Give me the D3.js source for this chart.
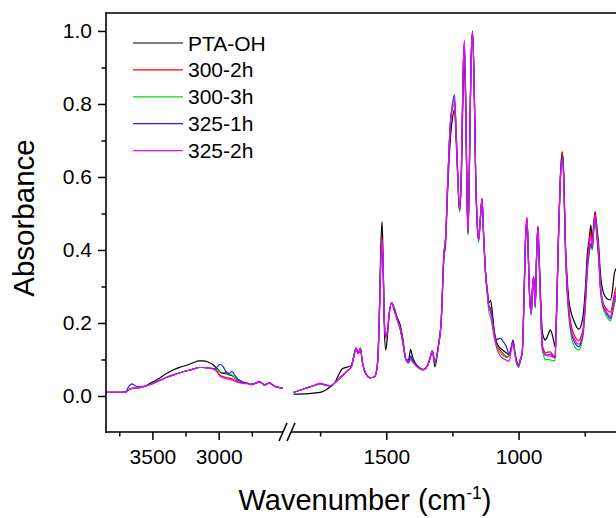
<!DOCTYPE html>
<html>
<head>
<meta charset="utf-8">
<script src="https://cdn.jsdelivr.net/npm/d3@7"></script>
<style>
  body { margin: 0; background: #fff; }
  svg { display: block; }
  text { font-family: "Liberation Sans", Arial, sans-serif; fill: #000; }
</style>
</head>
<body>
<div id="chart"></div>
<script>
// series names, in legend order
const seriesNames = ["PTA-OH", "300-2h", "300-3h", "325-1h", "325-2h"];

// left part of the broken axis (cm-1)
const wavenumberLeft = [3850, 3780, 3720, 3700, 3680, 3655, 3630, 3600, 3550, 3500,
  3450, 3400, 3340, 3280, 3220, 3180, 3150, 3120, 3080, 3040,
  3015, 2990, 2965, 2940, 2920, 2900, 2880, 2855, 2830, 2805,
  2780, 2755, 2720, 2692, 2670, 2655, 2635, 2617, 2595, 2567,
  2540, 2517];

const ptaOhLeft = [.010, .010, .010, .011, .017, .021, .022, .022, .028, .038,
  .048, .060, .072, .080, .087, .093, .096, .096, .093, .085,
  .076, .066, .062, .061, .058, .056, .050, .043, .040, .036,
  .035, .032, .035, .039, .034, .030, .033, .036, .031, .025,
  .023, .021];
const s3002hLeft = [.010, .010, .010, .011, .017, .021, .022, .023, .027, .034,
  .042, .050, .058, .065, .071, .075, .078, .078, .077, .074,
  .069, .057, .053, .050, .049, .047, .044, .039, .037, .035,
  .034, .031, .035, .038, .034, .030, .033, .035, .031, .025,
  .023, .021];
const s3003hLeft = [.010, .010, .010, .011, .017, .021, .022, .023, .027, .034,
  .042, .050, .058, .065, .071, .075, .078, .078, .077, .075,
  .073, .067, .064, .064, .060, .058, .050, .044, .039, .036,
  .035, .032, .035, .039, .034, .030, .033, .036, .031, .025,
  .023, .021];
const s3251hLeft = [.010, .010, .010, .012, .025, .033, .028, .025, .028, .034,
  .042, .050, .058, .065, .071, .075, .078, .078, .077, .075,
  .078, .087, .080, .064, .062, .067, .058, .046, .040, .036,
  .035, .032, .036, .040, .034, .031, .034, .036, .031, .025,
  .023, .021];
const s3252hLeft = [.010, .010, .010, .011, .017, .021, .022, .023, .027, .034,
  .042, .050, .058, .065, .071, .075, .078, .078, .077, .074,
  .067, .054, .050, .047, .046, .044, .041, .037, .035, .034,
  .034, .031, .035, .038, .034, .030, .033, .035, .031, .025,
  .023, .021];

// right part of the broken axis (cm-1)
const wavenumberRight = [1850, 1810, 1775, 1750, 1730, 1710, 1695, 1680, 1665, 1648,
  1632, 1622, 1614, 1606, 1598, 1590, 1578, 1560, 1545, 1535,
  1527, 1521, 1516, 1512, 1507, 1502, 1496, 1488, 1480, 1470,
  1460, 1448, 1438, 1425, 1416, 1408, 1401, 1390, 1375, 1360,
  1345, 1333, 1326, 1316, 1304, 1292, 1282, 1276, 1268, 1258,
  1250, 1242, 1236, 1230, 1223, 1216, 1210, 1205, 1200, 1195,
  1191, 1186, 1180, 1174, 1168, 1162, 1156, 1151, 1145, 1138,
  1132, 1125, 1118, 1112, 1106, 1100, 1092, 1082, 1069, 1057,
  1046, 1036, 1027, 1021, 1014, 1007, 1000, 993, 986, 980,
  974, 968, 963, 958, 952, 947, 943, 937, 932, 927,
  922, 916, 910, 904, 899, 890, 880, 870, 862, 856,
  849, 842, 835, 829, 824, 817, 810, 800, 790, 780,
  772, 763, 755, 747, 740, 733, 727, 721, 716, 711,
  705, 698, 690, 682, 672, 662, 653, 645, 638, 630,
  620, 610];

const ptaOhRight = [.005, .006, .008, .010, .016, .026, .036, .058, .075, .079,
  .084, .112, .131, .116, .131, .092, .064, .050, .052, .075,
  .200, .400, .478, .380, .180, .126, .160, .230, .256, .242,
  .218, .196, .160, .100, .098, .128, .108, .090, .078, .072,
  .082, .108, .124, .080, .132, .210, .380, .415, .560, .700,
  .760, .784, .700, .600, .505, .600, .820, .905, .800, .560,
  .446, .620, .900, 1.000, .860, .600, .470, .427, .480, .540,
  .440, .340, .290, .255, .262, .235, .180, .145, .131, .124,
  .118, .112, .135, .153, .120, .095, .085, .100, .120, .250,
  .420, .482, .380, .272, .227, .300, .327, .245, .380, .464,
  .380, .260, .175, .158, .153, .165, .181, .160, .135, .250,
  .446, .600, .669, .600, .446, .330, .263, .225, .205, .188,
  .183, .195, .227, .300, .390, .430, .468, .427, .470, .505,
  .470, .418, .330, .290, .272, .265, .263, .290, .336, .350,
  .355, .350];
const s3002hRight = [.010, .020, .028, .034, .030, .028, .036, .046, .056, .068,
  .080, .110, .131, .116, .131, .092, .062, .050, .052, .075,
  .190, .370, .435, .360, .200, .160, .175, .230, .256, .236,
  .212, .186, .150, .098, .092, .105, .096, .086, .076, .072,
  .082, .108, .124, .092, .132, .210, .390, .430, .580, .740,
  .790, .800, .720, .610, .510, .620, .870, .965, .820, .560,
  .446, .620, .900, .995, .860, .600, .470, .427, .480, .540,
  .440, .340, .285, .245, .240, .215, .175, .140, .125, .115,
  .108, .110, .132, .150, .118, .092, .082, .100, .120, .250,
  .430, .490, .385, .272, .227, .300, .327, .245, .380, .465,
  .375, .240, .140, .125, .118, .120, .121, .112, .108, .240,
  .440, .600, .669, .600, .440, .310, .240, .190, .168, .155,
  .152, .165, .190, .270, .360, .420, .450, .415, .465, .500,
  .460, .400, .300, .260, .242, .234, .230, .250, .280, .300,
  .310, .305];
const s3003hRight = [.010, .020, .028, .034, .030, .028, .036, .046, .056, .068,
  .080, .110, .131, .116, .131, .092, .062, .050, .052, .075,
  .190, .360, .425, .355, .200, .160, .175, .230, .256, .236,
  .212, .186, .150, .096, .090, .102, .094, .084, .075, .071,
  .082, .108, .124, .092, .132, .210, .390, .430, .580, .740,
  .790, .800, .720, .610, .505, .620, .870, .965, .820, .560,
  .440, .620, .900, .995, .860, .600, .465, .420, .475, .535,
  .435, .330, .275, .230, .215, .195, .160, .135, .118, .110,
  .105, .110, .132, .150, .115, .088, .078, .095, .115, .245,
  .420, .478, .375, .265, .220, .290, .320, .240, .370, .455,
  .360, .225, .125, .108, .099, .100, .099, .097, .097, .230,
  .430, .590, .650, .590, .430, .290, .215, .160, .138, .128,
  .126, .140, .170, .250, .340, .390, .412, .400, .450, .482,
  .440, .380, .285, .245, .225, .212, .206, .225, .250, .270,
  .280, .278];
const s3251hRight = [.010, .020, .028, .034, .030, .028, .036, .046, .056, .068,
  .080, .110, .131, .116, .131, .092, .062, .050, .052, .075,
  .190, .360, .420, .355, .200, .165, .175, .230, .256, .236,
  .212, .186, .150, .098, .094, .110, .100, .088, .077, .072,
  .082, .108, .124, .092, .132, .210, .390, .430, .580, .745,
  .800, .825, .730, .610, .510, .620, .870, .970, .820, .560,
  .450, .620, .900, .995, .860, .600, .470, .427, .480, .540,
  .440, .340, .285, .245, .240, .215, .170, .155, .158, .148,
  .135, .115, .135, .152, .118, .092, .082, .100, .120, .250,
  .420, .480, .380, .270, .227, .300, .327, .245, .380, .460,
  .370, .235, .130, .118, .112, .112, .115, .108, .105, .235,
  .435, .595, .655, .590, .435, .300, .228, .172, .150, .138,
  .135, .150, .180, .260, .350, .395, .418, .405, .455, .490,
  .450, .390, .290, .250, .232, .220, .212, .232, .260, .280,
  .290, .288];
const s3252hRight = [.010, .020, .028, .035, .031, .028, .036, .046, .057, .068,
  .080, .110, .131, .116, .131, .092, .062, .050, .052, .075,
  .190, .360, .425, .355, .200, .160, .175, .230, .256, .236,
  .212, .186, .150, .098, .092, .100, .094, .085, .076, .072,
  .082, .108, .124, .094, .132, .210, .390, .430, .580, .745,
  .795, .811, .725, .610, .510, .620, .875, .975, .820, .560,
  .446, .620, .900, .998, .860, .600, .470, .427, .480, .540,
  .440, .340, .280, .240, .230, .205, .165, .130, .110, .102,
  .098, .095, .128, .145, .115, .090, .082, .100, .120, .250,
  .425, .485, .380, .270, .227, .300, .327, .245, .380, .462,
  .370, .230, .132, .120, .115, .110, .110, .106, .104, .235,
  .432, .590, .647, .585, .435, .305, .232, .178, .158, .145,
  .142, .155, .185, .265, .355, .410, .436, .410, .460, .496,
  .455, .395, .295, .255, .236, .224, .217, .238, .270, .288,
  .298, .295];

const yMajorTicks = [0, 0.2, 0.4, 0.6, 0.8, 1.0];
const yMinorTicks = [0.1, 0.3, 0.5, 0.7, 0.9];
const xLeftTicks = [3500, 3000];
const xLeftMinor = [3750, 3250, 2750];
const xRightTicks = [1500, 1000];
const xRightMinor = [1750, 1250, 750];

const colors = ["#000000", "#ff0000", "#00dd00", "#2020ff", "#ff00ff"];

const leftValues = [ptaOhLeft, s3002hLeft, s3003hLeft, s3251hLeft, s3252hLeft];
const rightValues = [ptaOhRight, s3002hRight, s3003hRight, s3251hRight, s3252hRight];

const width = 616, height = 518;

const svg = d3.select("#chart").append("svg")
  .attr("width", width)
  .attr("height", height);

// scales
const y = d3.scaleLinear().domain([-0.1, 1.05]).range([432.5, 12.7]);
const xL = d3.scaleLinear().domain([3850, 2500]).range([106, 285]);
const xR = d3.scaleLinear().domain([1860, 600]).range([291, 624.4]);
const plotBottom = 432;

// spectra
const lineL = d3.line().x(d => xL(d[0])).y(d => y(d[1])).curve(d3.curveMonotoneX);
const lineR = d3.line().x(d => xR(d[0])).y(d => y(d[1])).curve(d3.curveMonotoneX);

seriesNames.forEach((name, i) => {
  const ptsL = wavenumberLeft.map((w, j) => [w, leftValues[i][j]]);
  const ptsR = wavenumberRight.map((w, j) => [w, rightValues[i][j]]);
  svg.append("path").attr("d", lineL(ptsL))
    .attr("fill", "none").attr("stroke", colors[i]).attr("stroke-width", 1.2);
  svg.append("path").attr("d", lineR(ptsR))
    .attr("fill", "none").attr("stroke", colors[i]).attr("stroke-width", 1.2);
});

// y axis
svg.append("g").attr("transform", "translate(106,0)")
  .call(d3.axisLeft(y).tickValues(yMajorTicks).tickSize(8).tickPadding(6)
    .tickFormat(d3.format(".1f")));
svg.append("g").attr("transform", "translate(106,0)")
  .call(d3.axisLeft(y).tickValues(yMinorTicks).tickSize(4.5).tickFormat(""));

// x axes, left and right of the break
svg.append("g").attr("transform", `translate(0,${plotBottom})`)
  .call(d3.axisBottom(xL).tickValues(xLeftTicks).tickSize(8).tickPadding(9)
    .tickFormat(d3.format("d")));
svg.append("g").attr("transform", `translate(0,${plotBottom})`)
  .call(d3.axisBottom(xL).tickValues(xLeftMinor).tickSize(4.5).tickFormat(""));
svg.append("g").attr("transform", `translate(0,${plotBottom})`)
  .call(d3.axisBottom(xR).tickValues(xRightTicks).tickSize(8).tickPadding(9)
    .tickFormat(d3.format("d")));
svg.append("g").attr("transform", `translate(0,${plotBottom})`)
  .call(d3.axisBottom(xR).tickValues(xRightMinor).tickSize(4.5).tickFormat(""));

svg.selectAll(".domain").remove();
svg.selectAll(".tick line").attr("stroke", "#000").attr("stroke-width", 1.5);
svg.selectAll(".tick text").style("font-size", "21px").attr("fill", "#000");

// frame lines
const frame = svg.append("g").attr("stroke", "#000").attr("stroke-width", 1.6).attr("fill", "none");
frame.append("line").attr("x1", 106).attr("x2", 106).attr("y1", 12.5).attr("y2", plotBottom + 0.8);
frame.append("line").attr("x1", 105.2).attr("x2", 630).attr("y1", 13).attr("y2", 13);
frame.append("line").attr("x1", 105.2).attr("x2", 283).attr("y1", plotBottom).attr("y2", plotBottom);
frame.append("line").attr("x1", 291).attr("x2", 630).attr("y1", plotBottom).attr("y2", plotBottom);
// break marks
frame.append("line").attr("x1", 279).attr("y1", 441).attr("x2", 287).attr("y2", 423);
frame.append("line").attr("x1", 287).attr("y1", 441).attr("x2", 295).attr("y2", 423);

// legend
const legend = svg.append("g");
seriesNames.forEach((name, i) => {
  const ly = 43 + i * 26.9;
  legend.append("line").attr("x1", 133).attr("x2", 183).attr("y1", ly).attr("y2", ly)
    .attr("stroke", colors[i]).attr("stroke-width", 1.2);
  legend.append("text").attr("x", 188).attr("y", ly + 7.5)
    .style("font-size", "21px").text(name);
});

// axis titles
svg.append("text")
  .attr("transform", "translate(33.5,218) rotate(-90)")
  .attr("text-anchor", "middle")
  .style("font-size", "29.5px")
  .text("Absorbance");

const xt = svg.append("text")
  .attr("x", 365).attr("y", 510)
  .attr("text-anchor", "middle")
  .style("font-size", "29px");
xt.append("tspan").text("Wavenumber (cm");
xt.append("tspan").attr("dy", -11).style("font-size", "17.5px").text("-1");
xt.append("tspan").attr("dy", 11).text(")");
</script>
</body>
</html>
